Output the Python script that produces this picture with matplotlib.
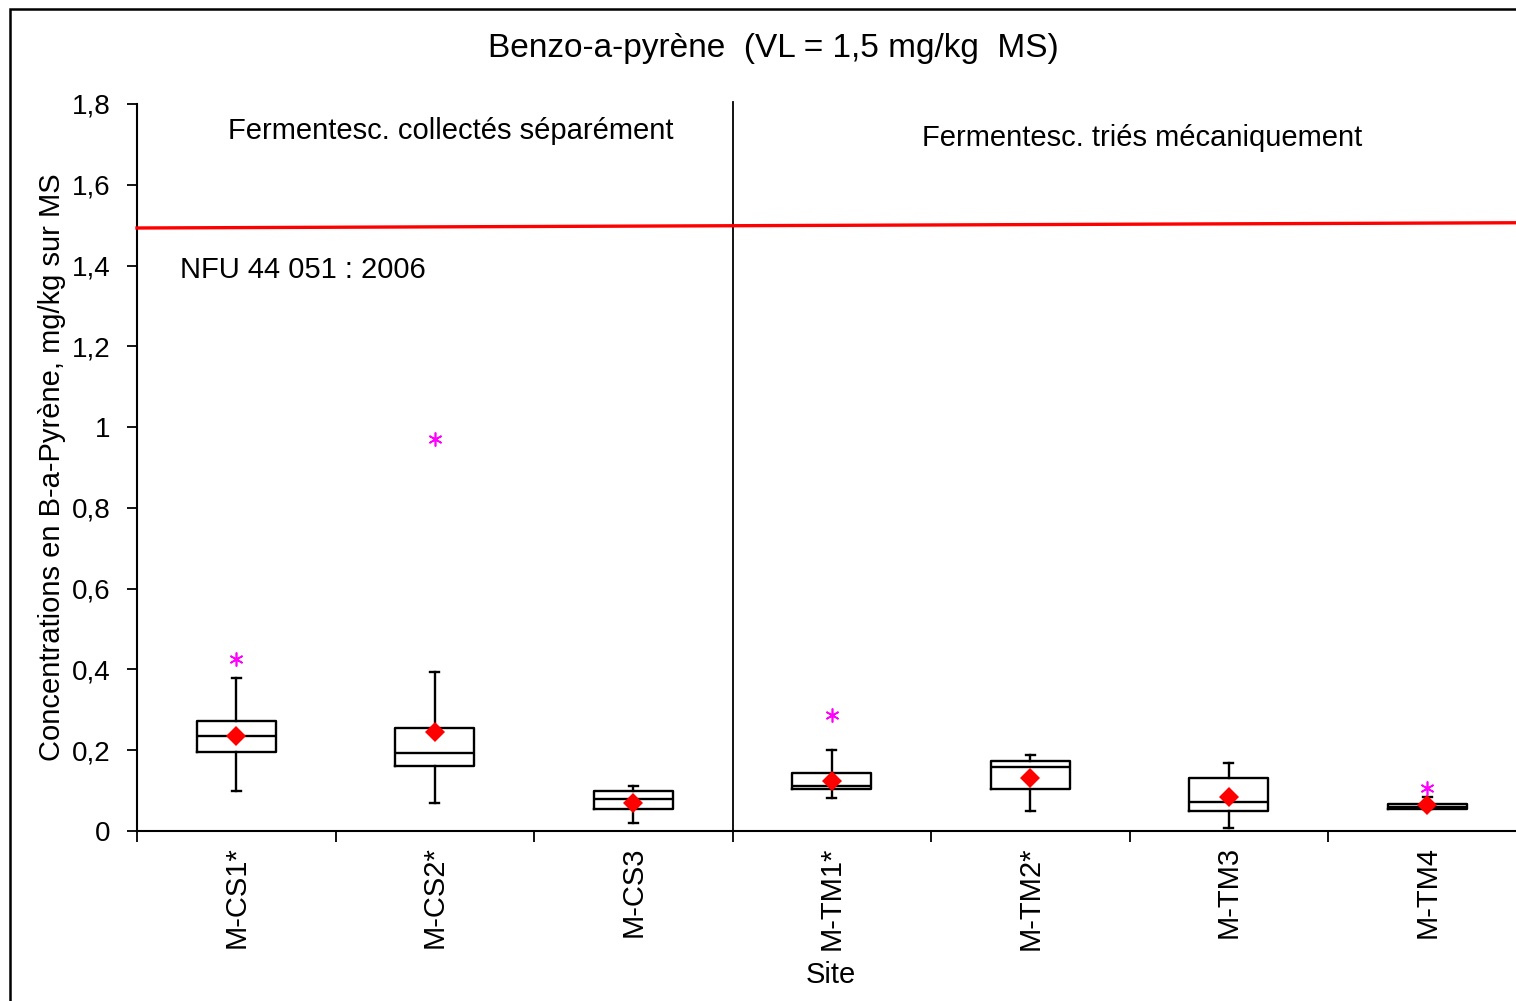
import matplotlib
matplotlib.use("Agg")
import matplotlib.pyplot as plt
from matplotlib.patches import Rectangle

plt.rcParams['font.family'] = ['Liberation Sans', 'DejaVu Sans']

categories = ["M-CS1*", "M-CS2*", "M-CS3", "M-TM1*", "M-TM2*", "M-TM3", "M-TM4"]
q1 = [0.196, 0.162, 0.054, 0.104, 0.104, 0.050, 0.054]
median = [0.235, 0.192, 0.080, 0.111, 0.158, 0.073, 0.060]
q3 = [0.273, 0.254, 0.100, 0.143, 0.173, 0.130, 0.066]
wlo = [0.100, 0.069, 0.021, 0.081, 0.050, 0.007, 0.054]
whi = [0.380, 0.393, 0.112, 0.200, 0.188, 0.169, 0.085]
means = [0.235, 0.246, 0.069, 0.125, 0.131, 0.085, 0.064]
outliers = [[0.426], [0.971], [], [0.287], [], [], [0.107]]
limit_line = [1.493, 1.506]
yticks = [0, 0.2, 0.4, 0.6, 0.8, 1.0, 1.2, 1.4, 1.6, 1.8]
ytick_labels = ["0", "0,2", "0,4", "0,6", "0,8", "1", "1,2", "1,4", "1,6", "1,8"]

W, H = 1516, 1001
fig = plt.figure(figsize=(W / 100, H / 100), dpi=100)
ax = fig.add_axes([137 / W, 1 - 831 / H, 1 - 137 / W, (831 - 104) / H])

xmin, xmax = -0.5, -0.5 + (W - 137) / 198.5

stats = []
for i in range(len(categories)):
    stats.append(dict(q1=q1[i], med=median[i], q3=q3[i], whislo=wlo[i], whishi=whi[i],
                      mean=means[i], fliers=[]))
positions = list(range(len(categories)))
ax.bxp(stats, positions=positions, widths=0.40, showmeans=False, showfliers=False,
       boxprops=dict(color='black', linewidth=1.7),
       medianprops=dict(color='black', linewidth=1.7),
       whiskerprops=dict(color='black', linewidth=1.7),
       capprops=dict(color='black', linewidth=1.7),
       capwidths=0.045, manage_ticks=False, zorder=3)
ax.plot(positions, means, linestyle='none', marker='D', markersize=10.5,
        color='#ff0000', markeredgewidth=0, zorder=5)
for i, vals in enumerate(outliers):
    for v in vals:
        ax.plot([i], [v], linestyle='none', marker=(6, 2, 0), markersize=10,
                color='#ff00ff', markeredgewidth=1.2, zorder=5)

# limit line
ax.plot([xmin, xmax], limit_line, color='#ff0000', linewidth=2.4, zorder=4, clip_on=False)
# separator
ax.plot([2.5, 2.5], [0, 1.805], color='black', linewidth=1.3, zorder=2, clip_on=False)

for s in ['top', 'right']:
    ax.spines[s].set_visible(False)
for s in ['left', 'bottom']:
    ax.spines[s].set_linewidth(1.5)

ax.set_yticks(yticks)
ax.set_yticklabels(ytick_labels, fontsize=20)
ax.tick_params(axis='y', direction='out', length=7, width=1.3, pad=12)

ax.set_xticks(positions)
ax.set_xticklabels(categories, rotation=90, fontsize=21)
ax.tick_params(axis='x', which='major', length=0, pad=11)
ax.set_xticks([b - 0.5 for b in range(len(categories) + 1)], minor=True)
ax.tick_params(axis='x', which='minor', direction='out', length=8, width=1.3)

ax.set_ylabel("Concentrations en B-a-Pyrène, mg/kg sur MS", fontsize=21, labelpad=4)

ax.set_xlim(xmin, xmax)
ax.set_ylim(0, 1.8)

fig.text(773 / W, 1 - 48 / H, "Benzo-a-pyrène  (VL = 1,5 mg/kg  MS)", fontsize=24,
         ha='center', va='center')
fig.text(831 / W, 1 - 975 / H, "Site", fontsize=21, ha='center', va='center')
fig.text(451 / W, 1 - 131 / H, "Fermentesc. collectés séparément", fontsize=21,
         ha='center', va='center')
fig.text(1142 / W, 1 - 138 / H, "Fermentesc. triés mécaniquement", fontsize=21,
         ha='center', va='center')
fig.text(180 / W, 1 - 270 / H, "NFU 44 051 : 2006", fontsize=21, ha='left', va='center')

fig.patches.append(Rectangle((10 / W, -0.05), 1.2, 1 - 9 / H + 0.05, transform=fig.transFigure,
                             fill=False, edgecolor='black', linewidth=1.8))

fig.savefig("out.png", dpi=100)
